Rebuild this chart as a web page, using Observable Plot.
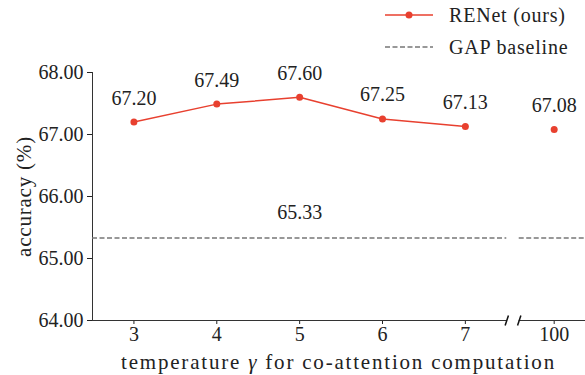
<!DOCTYPE html>
<html>
<head>
<meta charset="utf-8">
<script src="https://cdn.jsdelivr.net/npm/d3@7"></script>
<script src="https://cdn.jsdelivr.net/npm/@observablehq/plot@0.6"></script>
<style>
  html, body { margin: 0; padding: 0; background: #fff; }
  #wrap { position: relative; width: 585px; height: 375px; font-family: "Liberation Serif", "DejaVu Serif", serif; color: #222; }
  #legend { position: absolute; left: 385px; top: -1px; font-size: 20px; letter-spacing: 0.8px; }
  .row { display: flex; align-items: center; height: 32px; }
  .row svg { width: 48px; height: 20px; margin-right: 16px; }
  #xlabel { position: absolute; left: 92px; width: 493px; top: 350px; text-align: center; font-size: 21px; letter-spacing: 1.8px; }
</style>
</head>
<body>
<div id="wrap">
  <div id="chart"></div>
  <div id="legend">
    <div class="row"><svg><line x1="0" y1="10" x2="48" y2="10" stroke="#e8402f" stroke-width="1.5"/><circle cx="24" cy="10" r="3.5" fill="#e8402f"/></svg><span>RENet (ours)</span></div>
    <div class="row"><svg><line x1="0" y1="10" x2="48" y2="10" stroke="#777" stroke-width="1.5" stroke-dasharray="5,2.5"/></svg><span>GAP baseline</span></div>
  </div>
  <div id="xlabel">temperature <i>γ</i> for co-attention computation</div>
</div>
<script>
// data
const temps = [3, 4, 5, 6, 7];
const accuracy = [67.20, 67.49, 67.60, 67.25, 67.13];
const farTemp = 100;
const farAccuracy = 67.08;
const gapBaseline = 65.33;
const yTicks = [64, 65, 66, 67, 68];

// broken-axis layout (position units on the x scale)
const farPos = 8.072;
const leftPanel = [2.5, 7.5];
const rightPanel = [7.65, 8.45];
const red = "#e8402f";

const main = temps.map((t, i) => ({pos: t, acc: accuracy[i]}));
const far = [{pos: farPos, acc: farAccuracy}];
const panels = [{x1: leftPanel[0], x2: leftPanel[1]}, {x1: rightPanel[0], x2: rightPanel[1]}];
const breaks = [leftPanel[1], rightPanel[0]];
const xTicks = [...temps, farPos];

const chart = Plot.plot({
  width: 585,
  height: 375,
  marginTop: 72,
  marginBottom: 55,
  marginLeft: 92,
  marginRight: 0,
  style: {fontFamily: '"Liberation Serif", "DejaVu Serif", serif', fontSize: "20px", background: "#fff", color: "#222"},
  x: {domain: [leftPanel[0], rightPanel[1]]},
  y: {domain: [64, 68]},
  marks: [
    Plot.axisY({ticks: yTicks, tickFormat: d3.format(".2f"), tickSize: 5, tickPadding: 4, fontSize: 20,
      label: "accuracy (%)", labelAnchor: "center", labelArrow: "none", labelOffset: 76}),
    Plot.axisX({ticks: xTicks, tickFormat: d => d === farPos ? String(farTemp) : String(d), tickSize: 4, tickPadding: 2, fontSize: 20, label: null}),
    Plot.ruleX([leftPanel[0]], {y1: 64, y2: 68, stroke: "#333", strokeWidth: 1}),
    Plot.ruleY(panels, {y: 64, x1: "x1", x2: "x2", stroke: "#333", strokeWidth: 1}),
    Plot.link(breaks, {x1: d => d - 0.02, x2: d => d + 0.02, y1: 64 - 0.08, y2: 64 + 0.08, stroke: "#111", strokeWidth: 1.5}),
    Plot.ruleY(panels, {y: gapBaseline, x1: "x1", x2: "x2", stroke: "#777", strokeWidth: 1.5, strokeDasharray: "5,2.5"}),
    Plot.text([{pos: 5, acc: gapBaseline}], {x: "pos", y: "acc", text: d => d.acc.toFixed(2), dy: -25, fontSize: 20, fill: "#222"}),
    Plot.line(main, {x: "pos", y: "acc", stroke: red, strokeWidth: 1.5}),
    Plot.dot(main.concat(far), {x: "pos", y: "acc", r: 3.5, fill: red, stroke: "none"}),
    Plot.text(main.concat(far), {x: "pos", y: "acc", text: d => d.acc.toFixed(2), dy: -24, fontSize: 20, fill: "#222"})
  ]
});
chart.querySelectorAll("g[aria-label='y-axis label'] text").forEach(t => {
  t.style.letterSpacing = "0.8px";
  t.setAttribute("font-size", "21");
});
document.getElementById("chart").appendChild(chart);
</script>
</body>
</html>
